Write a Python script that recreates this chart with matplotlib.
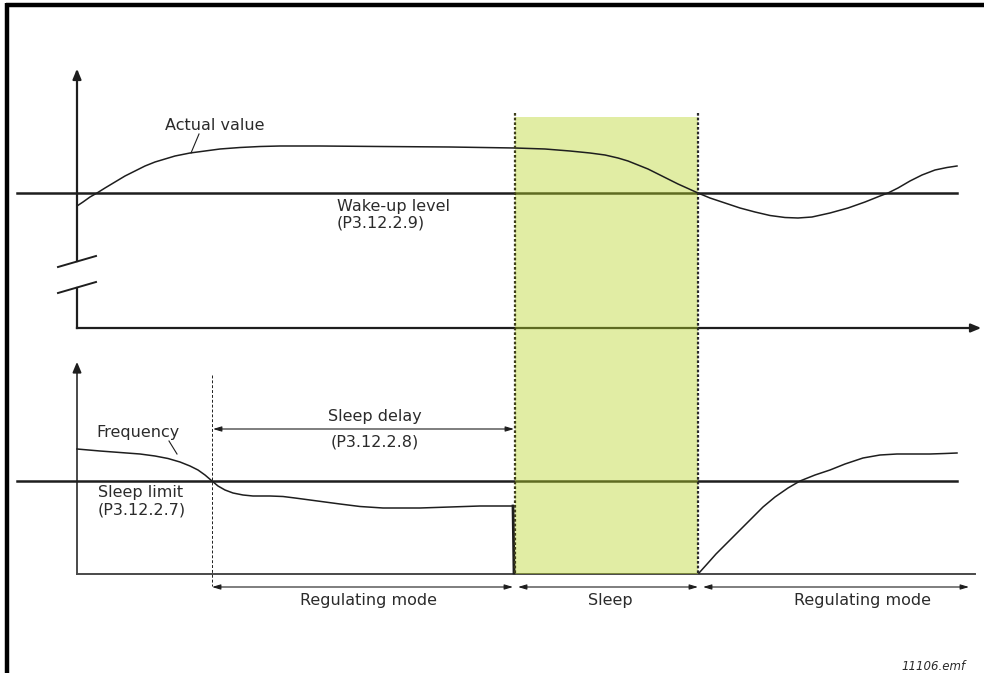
import numpy as np
import matplotlib
matplotlib.use('Agg')
import matplotlib.pyplot as plt
from matplotlib.patches import Rectangle

# values (screen units, y grows downwards)
actual_x = [77, 83, 90, 97, 105, 115, 125, 135, 145, 155, 165, 175, 190, 205, 220, 240, 260, 280,
            320, 380, 450, 515, 545, 570, 590, 605, 618, 628, 638, 648, 658, 668, 678, 688, 698,
            710, 725, 740, 755, 770, 785, 798, 812, 830, 848, 865, 880, 888, 898, 910, 922, 935,
            947, 957]
actual_y = [206, 202, 197, 193, 188, 182, 176, 171, 166, 162, 159, 156, 153, 151, 149, 147.5,
            146.5, 146, 146, 146.5, 147, 148, 149, 151, 153, 155, 158, 161, 165, 169, 174, 179,
            184, 188.5, 193, 198, 203, 208, 212, 215.5, 217.5, 218, 217, 213, 208, 202, 196, 193,
            188, 181, 175, 170, 167.5, 166]

freq_x = [77, 100, 120, 140, 155, 168, 180, 190, 198, 205, 212, 218, 225, 233, 243, 253, 270,
          283, 295, 310, 325, 340, 360, 383, 420, 450, 480, 513, 514]
freq_y = [449, 451, 452.5, 454, 456, 458.5, 462, 466, 470, 475, 481, 486, 490, 493, 495, 496,
          496, 496.5, 498, 500, 502, 504, 506.5, 508, 508, 507, 506, 506, 573]

wake_x = [699, 708, 716, 723, 730, 740, 750, 763, 775, 788, 800, 815, 830, 845, 863, 880, 897,
          915, 930, 945, 957]
wake_y = [573, 563, 554, 547, 540, 530, 520, 507, 497, 488, 481, 475, 470, 464, 458, 455, 454,
          454, 454, 453.5, 453]

wake_level = 193
sleep_limit = 481
delay_start = 212
sleep_start = 515
sleep_end = 698

modes = ['Regulating mode', 'Sleep', 'Regulating mode']
mode_spans = [(212, 513), (518, 698), (703, 969)]
mode_centres = [369, 610, 863]

fig = plt.figure(figsize=(9.84, 6.73), dpi=100)
ax = fig.add_axes([0, 0, 1, 1])
ax.set_xlim(0, 984)
ax.set_ylim(673, 0)
ax.axis('off')

ink = '#1e1e1e'
txt = '#2b2b2b'
fs = 11.5

# frame (top and left only)
ax.plot([6, 984], [4.5, 4.5], color='black', lw=3.2, solid_capstyle='butt')
ax.plot([6.5, 6.5], [3, 673], color='black', lw=3.2, solid_capstyle='butt')

# ---- upper panel ----
ax.plot([77, 77], [72, 261], color=ink, lw=1.6)
ax.plot([77, 77], [288, 328], color=ink, lw=1.6)
ax.plot([58, 96], [267, 256], color=ink, lw=1.4)
ax.plot([58, 96], [293, 282], color=ink, lw=1.4)
ax.annotate('', xy=(77, 66), xytext=(77, 80),
            arrowprops=dict(arrowstyle='-|>,head_length=0.6,head_width=0.25', color=ink, lw=1.6))
ax.plot([77, 975], [328, 328], color=ink, lw=1.6)
ax.annotate('', xy=(984, 328), xytext=(970, 328),
            arrowprops=dict(arrowstyle='-|>,head_length=0.6,head_width=0.25', color=ink, lw=1.6))
ax.plot([17, 957], [wake_level, wake_level], color=ink, lw=1.8)
ax.plot(actual_x, actual_y, color=ink, lw=1.1, zorder=5)
ax.plot([191, 199], [153, 134], color=ink, lw=0.8)
ax.text(165, 125, 'Actual value', fontsize=fs, color=txt, va='center', ha='left')
ax.text(337, 207, 'Wake-up level', fontsize=fs, color=txt, va='center', ha='left')
ax.text(337, 223, '(P3.12.2.9)', fontsize=fs, color=txt, va='center', ha='left')

# ---- lower panel ----
gray = '#4a4a4a'
ax.plot([77, 77], [366, 573.5], color=gray, lw=1.4)
ax.annotate('', xy=(77, 359), xytext=(77, 372),
            arrowprops=dict(arrowstyle='-|>,head_length=0.6,head_width=0.25', color=ink, lw=1.4))
ax.plot([77, 975], [573.5, 573.5], color=gray, lw=1.4)
ax.plot([17, 957], [sleep_limit, sleep_limit], color=ink, lw=1.8)
ax.plot(freq_x[:-1], freq_y[:-1], color=ink, lw=1.1, zorder=5)
ax.plot(freq_x[-2:], freq_y[-2:], color=ink, lw=2.0, zorder=5)
ax.plot(wake_x, wake_y, color=ink, lw=1.1, zorder=5)
ax.plot([169, 177], [441, 454], color=ink, lw=0.8)
ax.text(96, 432, 'Frequency', fontsize=fs, color=txt, va='center', ha='left')
ax.text(98, 493, 'Sleep limit', fontsize=fs, color=txt, va='center', ha='left')
ax.text(98, 510, '(P3.12.2.7)', fontsize=fs, color=txt, va='center', ha='left')

# sleep delay
ax.plot([delay_start, delay_start], [375, 586], color=ink, lw=0.7, ls=(0, (3, 2)))
ax.annotate('', xy=(delay_start + 1, 429), xytext=(sleep_start - 1, 429),
            arrowprops=dict(arrowstyle='<|-|>,head_length=0.5,head_width=0.15', color=ink,
                            lw=0.8, shrinkA=0, shrinkB=0))
ax.text(375, 417, 'Sleep delay', fontsize=fs, color=txt, va='center', ha='center')
ax.text(375, 442, '(P3.12.2.8)', fontsize=fs, color=txt, va='center', ha='center')

# sleep region: translucent green so the lines beneath turn olive
ax.add_patch(Rectangle((sleep_start, 117), sleep_end - sleep_start, 573.5 - 117,
                       facecolor=(0.72, 0.84, 0.15), alpha=0.42, edgecolor='none', zorder=4))
for xv, c in [(sleep_start, '#3d3d1a'), (sleep_end, '#2a2a2a')]:
    ax.plot([xv, xv], [113, 573], color=c, lw=1.6, ls=(0, (1.2, 0.9)), zorder=6)

# mode arrows
for label, (x0, x1), xc in zip(modes, mode_spans, mode_centres):
    ax.annotate('', xy=(x0, 587), xytext=(x1, 587),
                arrowprops=dict(arrowstyle='<|-|>,head_length=0.5,head_width=0.15', color=ink,
                                lw=0.8, shrinkA=0, shrinkB=0))
    ax.text(xc, 600, label, fontsize=fs, color=txt, va='center', ha='center')

ax.text(966, 667, '11106.emf', fontsize=8.5, color=txt, style='italic', va='center', ha='right')

fig.savefig('out.png', dpi=100)
